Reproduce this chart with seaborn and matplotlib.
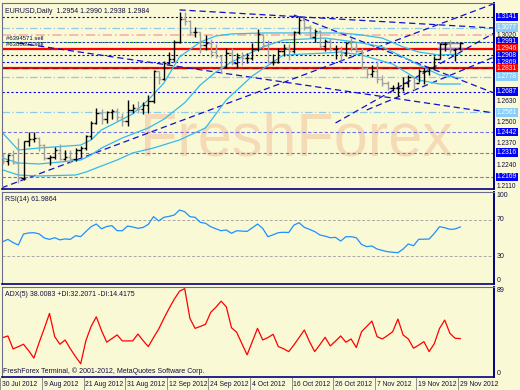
import numpy as np
import pandas as pd
import matplotlib
matplotlib.use("Agg")
import matplotlib.pyplot as plt
import matplotlib.transforms as mtransforms
import seaborn as sns

# ---------------- data ----------------
dates = pd.bdate_range("2012-07-30", "2012-11-29")
opens = [1.2290,1.2268,1.2302,1.2255,1.2165,1.2388,1.2400,1.2405,1.2365,1.2285,
         1.2290,1.2335,1.2280,1.2290,1.2280,1.2335,1.2345,1.2415,1.2500,1.2560,
         1.2520,1.2565,1.2570,1.2535,1.2510,1.2575,1.2590,1.2580,1.2605,1.2630,
         1.2815,1.2765,1.2860,1.2885,1.2990,1.3130,1.3115,1.3050,1.3050,1.2970,
         1.2980,1.2930,1.2905,1.2840,1.2925,1.2860,1.2895,1.2890,1.2890,1.2945,
         1.3035,1.2970,1.2870,1.2870,1.2935,1.2955,1.2935,1.3050,1.3125,1.3080,
         1.3020,1.3055,1.2965,1.2995,1.2945,1.2945,1.2920,1.2980,1.2955,1.2935,
         1.2830,1.2795,1.2810,1.2765,1.2740,1.2710,1.2710,1.2710,1.2740,1.2775,
         1.2740,1.2810,1.2810,1.2830,1.2885,1.2975,1.2975,1.2940,1.2954]
highs = [1.2315,1.2310,1.2335,1.2405,1.2390,1.2440,1.2440,1.2410,1.2370,1.2300,
         1.2350,1.2370,1.2330,1.2330,1.2345,1.2360,1.2425,1.2510,1.2590,1.2580,
         1.2570,1.2585,1.2590,1.2560,1.2635,1.2610,1.2630,1.2625,1.2670,1.2820,
         1.2815,1.2875,1.2930,1.3000,1.3170,1.3170,1.3120,1.3080,1.3050,1.3030,
         1.3010,1.2975,1.2910,1.2950,1.2950,1.2920,1.2930,1.2920,1.2985,1.3070,
         1.3040,1.3000,1.2915,1.2955,1.2975,1.2975,1.3055,1.3140,1.3130,1.3090,
         1.3070,1.3060,1.3010,1.3015,1.2970,1.2965,1.2990,1.3015,1.2990,1.2950,
         1.2835,1.2850,1.2875,1.2790,1.2750,1.2725,1.2745,1.2775,1.2790,1.2775,
         1.2825,1.2830,1.2840,1.2905,1.2985,1.2990,1.3000,1.2950,1.2990]
lows = [1.2250,1.2240,1.2245,1.2133,1.2150,1.2360,1.2380,1.2325,1.2275,1.2240,
        1.2280,1.2275,1.2270,1.2255,1.2265,1.2290,1.2330,1.2400,1.2490,1.2490,
        1.2495,1.2520,1.2510,1.2480,1.2480,1.2560,1.2560,1.2550,1.2560,1.2620,
        1.2735,1.2760,1.2855,1.2865,1.2980,1.3095,1.3030,1.3020,1.2925,1.2940,
        1.2900,1.2890,1.2800,1.2830,1.2850,1.2840,1.2850,1.2860,1.2880,1.2935,
        1.2945,1.2860,1.2850,1.2860,1.2905,1.2880,1.2925,1.3040,1.3060,1.3015,
        1.2990,1.2955,1.2935,1.2935,1.2885,1.2880,1.2905,1.2935,1.2920,1.2825,
        1.2770,1.2775,1.2740,1.2720,1.2695,1.2690,1.2660,1.2690,1.2715,1.2700,
        1.2745,1.2735,1.2790,1.2825,1.2885,1.2935,1.2925,1.2875,1.2938]
closes = [1.2268,1.2302,1.2255,1.2165,1.2388,1.2400,1.2405,1.2365,1.2285,1.2290,
          1.2335,1.2280,1.2290,1.2280,1.2335,1.2345,1.2415,1.2500,1.2560,1.2520,
          1.2565,1.2570,1.2535,1.2510,1.2575,1.2590,1.2580,1.2605,1.2630,1.2815,
          1.2765,1.2860,1.2885,1.2990,1.3130,1.3115,1.3050,1.3050,1.2970,1.2980,
          1.2930,1.2905,1.2840,1.2925,1.2860,1.2895,1.2890,1.2890,1.2945,1.3035,
          1.2970,1.2870,1.2870,1.2935,1.2955,1.2935,1.3050,1.3125,1.3080,1.3020,
          1.3055,1.2965,1.2995,1.2945,1.2945,1.2920,1.2980,1.2955,1.2935,1.2830,
          1.2795,1.2810,1.2765,1.2740,1.2710,1.2710,1.2710,1.2740,1.2775,1.2740,
          1.2810,1.2810,1.2830,1.2885,1.2975,1.2975,1.2940,1.2945,1.2984]

rsi_values = [46,48.5,45,42.4,54.3,55.5,55.8,54.5,50,48.5,
              50.3,48,49,48.5,52.5,51.5,57,62.3,65.2,60,
              62.5,63.4,58,57.9,63,62,60.5,61.5,64.8,73.2,
              68.5,72.5,73.5,75,80.4,78.6,73.2,72.5,67,66,
              62.3,60,57.9,58.7,55.1,57.9,57.5,57.2,61,65.2,
              60.5,51.4,53.5,55.8,56.2,56,64,66.6,61.6,59.4,
              57,53.3,52,50.3,50.7,46.7,51.4,51.4,50.3,43,
              40.6,41.3,38,36.5,35.1,34.5,34,38,43.5,41.6,
              48.6,48.7,48.9,55,62.3,61.2,59.4,59.8,62]
adx_values = [38.9,40.6,27.8,30,32.4,26,18.7,34,48.1,62.9,
              39.9,32.4,36.6,28,20.2,13.1,36,50,59.5,46,
              34.4,38,41.6,35.7,35.7,35.7,42.5,36,30.1,39,
              47.4,58,67.8,77,84.8,87.4,58,48.1,50,52.1,
              63.9,69,75,69.4,48.7,44.2,33,21.9,35,48.1,
              36.6,39,42.2,30.1,28,25.1,31.7,39,46.5,35,
              25.1,32,39.3,30.7,35.5,40.6,34.4,37.6,29.1,44.8,
              50,55.3,39.9,37.6,41,44.8,57.3,41.6,37.6,28.5,
              31.5,35,25.1,33,48,56.3,43.2,38.3,38]

# light blue curves (bar index, price)
upper_idx = [0,3,7,15,17,19,22,25,28,31,34,38,41,44,50,57,65,69,73,77,80,84,88]
upper_val = [1.2436,1.2333,1.2345,1.2363,1.2394,1.2455,1.2503,1.2552,1.2637,1.2740,1.2898,
             1.2989,1.3026,1.3038,1.3044,1.3044,1.3044,1.3032,1.3013,1.2959,1.2928,1.2910,1.2916]
mid_idx = [0,3,7,15,17,19,23,28,31,35,38,41,44,48,50,54,62,65,69,73,77,82,84,88]
mid_val = [1.2284,1.2254,1.2248,1.2272,1.2303,1.2345,1.2406,1.2467,1.2520,1.2620,1.2728,
           1.2807,1.2868,1.2928,1.2959,1.3001,1.3013,1.3001,1.2983,1.2959,1.2898,1.2819,1.2789,1.2770]
low_idx = [0,3,7,14,16,19,22,25,29,34,39,43,48,54,62,65,69,75,80,84,88]
low_val = [1.2212,1.2181,1.2175,1.2181,1.2199,1.2236,1.2272,1.2315,1.2345,1.2394,1.2467,
           1.2637,1.2783,1.2910,1.2922,1.2928,1.2910,1.2855,1.2758,1.2734,1.2734]

# trend lines: (start idx, start price, end idx, end price)
trend_lines = [(-0.2, 1.2103, 94.5, 1.3222),
               (34, 1.3184, 94.5, 1.3074),
               (56, 1.3153, 94.5, 1.2679),
               (3, 1.2983, 94.5, 1.2558),
               (64, 1.2497, 94.5, 1.3044),
               (70, 1.2576, 94.5, 1.2898)]

# horizontal levels
level_prices = [1.3141, 1.3077, 1.3030, 1.2991, 1.2946, 1.2908, 1.2869, 1.2831,
                1.2778, 1.2687, 1.2561, 1.2442, 1.2316, 1.2169]
level_kinds = ["blue", "lblue", "pink", "green", "red", "blue", "blue", "red",
               "lblue", "blue", "lblue", "violet", "violet", "violet"]
box_prices = [1.3141, 1.3077, 1.2991, 1.2946, 1.2908, 1.2869, 1.2831, 1.2778,
              1.2687, 1.2561, 1.2442, 1.2316, 1.2169]
box_kinds = ["blue", "lblue", "blue", "red", "blue", "blue", "red", "lblue",
             "blue", "lblue", "blue", "blue", "blue"]
plain_ticks = [1.2110, 1.2240, 1.2370, 1.2500, 1.2630, 1.3020]
date_labels = ["30 Jul 2012", "9 Aug 2012", "21 Aug 2012", "31 Aug 2012", "12 Sep 2012",
               "24 Sep 2012", "4 Oct 2012", "16 Oct 2012", "26 Oct 2012", "7 Nov 2012",
               "19 Nov 2012", "29 Nov 2012"]
date_label_idx = [0, 8, 16, 24, 32, 40, 48, 56, 64, 72, 80, 88]

# ---------------- style ----------------
BG = "#FAF9D6"
NAVY = "#000080"
TXT = "#101040"
FONT = ["Liberation Sans", "DejaVu Sans"]
plt.rcParams["font.family"] = FONT

fig = plt.figure(figsize=(5.2, 3.9), dpi=100, facecolor=BG)
W, H = 520.0, 390.0
def box(top, bottom, left=2, right=494):
    return [left / W, 1 - bottom / H, (right - left) / W, (bottom - top) / H]

ax = fig.add_axes(box(3, 189))
ax_rsi = fig.add_axes(box(192, 284))
ax_adx = fig.add_axes(box(287, 377))
XLIM = (-0.135, 94.48)

for a in (ax, ax_rsi, ax_adx):
    a.set_facecolor(BG)
    a.set_xlim(*XLIM)
    a.set_xticks([])
    a.set_yticks([])
    for s in ("left", "top"):
        a.spines[s].set_color("#6b6b8a")
        a.spines[s].set_linewidth(0.8)
    a.spines["bottom"].set_color(NAVY)
    a.spines["bottom"].set_linewidth(1.2)
    a.spines["right"].set_color(NAVY)
    a.spines["right"].set_linewidth(1.4)

ax.set_ylim(1.2096, 1.3226)
ax_rsi.set_ylim(0, 100)
ax_adx.set_ylim(0, 89)

idx = np.arange(len(dates))

# watermark
ax.text(56.5, 1.2394, "FreshForex", fontsize=44, color="#F3CFA8", alpha=0.7,
        ha="center", va="center", family=FONT, zorder=0.5)

# horizontal levels
style = {
    "blue": dict(color="#0000FF", lw=0.8, ls=(0, (2, 2))),
    "lblue": dict(color="#8EC9E8", lw=0.9, ls=(0, (6, 2, 1, 2))),
    "pink": dict(color="#F4A8A8", lw=1.1, ls=(0, (6, 2, 1, 2))),
    "green": dict(color="#00A000", lw=0.8, ls=(0, (2, 2))),
    "red": dict(color="#FF0000", lw=1.6, ls="-"),
    "violet": dict(color="#7070E6", lw=0.8, ls=(0, (3, 2))),
}
for p, k in zip(level_prices, level_kinds):
    ax.axhline(p, zorder=2, **style[k])
ax.axhline(1.2991, color="#2020E0", lw=0.7, ls=(1, (2, 2)), zorder=2)
ax.axhline(1.2831, color="#B00000", lw=0.9, ls=(0, (5, 3)), zorder=2.1)

# trend lines
for x0, y0, x1, y1 in trend_lines:
    ax.plot([x0, x1], [y0, y1], color="#1010D0", lw=0.9, ls=(0, (5, 3)), zorder=2.2)

# light blue curves
for xi, yv in ((upper_idx, upper_val), (mid_idx, mid_val), (low_idx, low_val)):
    sns.lineplot(x=xi, y=yv, ax=ax, color="#33BBEE", lw=0.9, zorder=2.5,
                 estimator=None, sort=False)

# OHLC bars
for i in idx:
    c = "#000000" if closes[i] >= opens[i] else "#A0A0A0"
    ax.vlines(i, lows[i], highs[i], color=c, lw=1.0, zorder=3)
    ax.hlines(opens[i], i - 0.45, i, color=c, lw=1.0, zorder=3)
    ax.hlines(closes[i], i, i + 0.45, color=c, lw=1.0, zorder=3)

# violet marker near last bars
ax.hlines([1.2983, 1.2950], 83.5, 88.5, color="#B060D0", lw=1.0, zorder=2.6)

# texts in main panel
ax.text(0.006, 0.975, "EURUSD,Daily  1.2954 1.2990 1.2938 1.2984", transform=ax.transAxes,
        fontsize=5.0, color=TXT, ha="left", va="top", zorder=6)
ax.text(0.6, 1.2998, "#6394571 sell", fontsize=4.3, color=TXT, ha="left",
        va="bottom", zorder=6)
ax.text(0.6, 1.2958, "#6388692 sell", fontsize=4.3, color=TXT, ha="left",
        va="bottom", zorder=6)

# right price axis labels
tr = mtransforms.blended_transform_factory(ax.transAxes, ax.transData)
plain_shift = {1.3020: 0.0011}
for p in plain_ticks:
    ax.text(1.006, p + plain_shift.get(p, 0.0), f"{p:.4f}", transform=tr, fontsize=4.8,
            color=TXT, ha="left", va="center", clip_on=False, zorder=1)
box_colors = {"blue": "#0000FF", "lblue": "#87CEFA", "red": "#FF0000"}
label_shift = {1.2991: 0.0003, 1.2946: 0.0003, 1.2908: -0.0001, 1.2869: -0.0006,
               1.2831: -0.0003, 1.2778: 0.0}
for p, k in zip(box_prices, box_kinds):
    ax.text(1.006, p + label_shift.get(p, 0.0), f"{p:.4f}", transform=tr, fontsize=4.8,
            color="white", ha="left", va="center", clip_on=False, zorder=7,
            bbox=dict(boxstyle="square,pad=0.12", fc=box_colors[k], ec="none"))

# RSI panel
ax_rsi.axhline(70, color="#A8A8A8", lw=0.7, ls=(0, (3, 2)))
ax_rsi.axhline(30, color="#A8A8A8", lw=0.7, ls=(0, (3, 2)))
sns.lineplot(x=idx, y=rsi_values, ax=ax_rsi, color="#1E90FF", lw=0.9, estimator=None)
ax_rsi.text(0.006, 0.96, "RSI(14) 61.9864", transform=ax_rsi.transAxes, fontsize=5.0,
            color=TXT, ha="left", va="top")
trr = mtransforms.blended_transform_factory(ax_rsi.transAxes, ax_rsi.transData)
for v, va in ((100, "top"), (70, "center"), (30, "center"), (0, "bottom")):
    ax_rsi.text(1.006, v, str(v), transform=trr, fontsize=5.0, color=TXT,
                ha="left", va=va, clip_on=False)

# ADX panel
sns.lineplot(x=idx, y=adx_values, ax=ax_adx, color="#FF0000", lw=0.9, estimator=None)
ax_adx.text(0.006, 0.96, "ADX(5) 38.0083 +DI:32.2071 -DI:14.4175", transform=ax_adx.transAxes,
            fontsize=5.0, color=TXT, ha="left", va="top")
ax_adx.text(0.003, 0.02, "FreshForex Terminal, \u00a9 2001-2012, MetaQuotes Software Corp.",
            transform=ax_adx.transAxes, fontsize=5.0, color=TXT, ha="left", va="bottom")
tra = mtransforms.blended_transform_factory(ax_adx.transAxes, ax_adx.transData)
for v, va in ((89, "top"), (0, "bottom")):
    ax_adx.text(1.006, v, str(v), transform=tra, fontsize=5.0, color=TXT,
                ha="left", va=va, clip_on=False)

for a in (ax, ax_rsi, ax_adx):
    a.set_xlabel("")
    a.set_ylabel("")

# date labels under ADX panel
trd = mtransforms.blended_transform_factory(ax_adx.transData, fig.transFigure)
for i, lab in zip(date_label_idx, date_labels):
    ax_adx.plot([i - 0.45, i - 0.45], [1 - 378 / H, 1 - 389 / H], transform=trd,
                color="#808080", lw=0.6, clip_on=False)
    ax_adx.text(i - 0.1, 1 - 385 / H, lab, transform=trd, fontsize=4.9, color=TXT,
                ha="left", va="center", clip_on=False)

fig.savefig("out.png", dpi=100, facecolor=BG)
